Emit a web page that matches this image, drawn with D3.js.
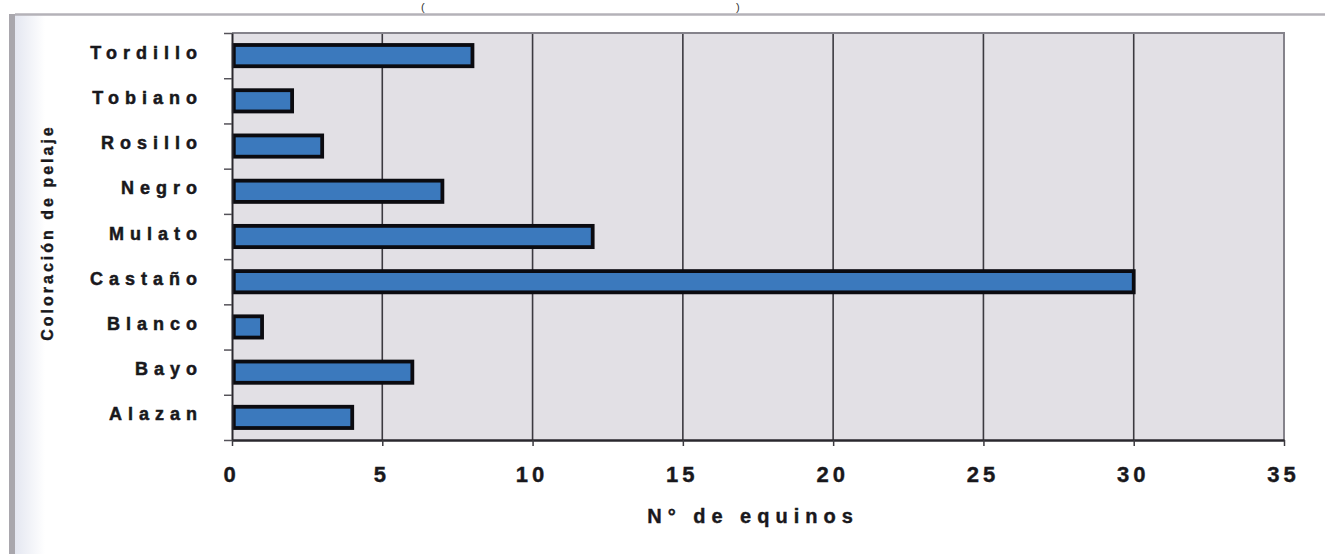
<!DOCTYPE html>
<html>
<head>
<meta charset="utf-8">
<script src="https://cdn.jsdelivr.net/npm/d3@7/dist/d3.min.js"></script>
<style>
  html, body { margin: 0; padding: 0; background: #fff; }
  svg { display: block; font-family: "Liberation Sans", Arial, sans-serif; }
</style>
</head>
<body>
<svg id="chart" width="1325" height="554"></svg>
<script>
// Coat colour of the horses, top to bottom
const categories = ["Tordillo", "Tobiano", "Rosillo", "Negro", "Mulato", "Castaño", "Blanco", "Bayo", "Alazan"];
const counts     = [8, 2, 3, 7, 12, 30, 1, 6, 4];
const xTicks     = [0, 5, 10, 15, 20, 25, 30, 35];
const xTitle     = "N° de equinos";
const yTitle     = "Coloración de pelaje";

const svg = d3.select("#chart");
const W = 1325, H = 554;
const plot = { left: 232, right: 1284, top: 33, bottom: 440 };
const ink = "#19181c";

// page frame: grey rule along the top and shaded strip on the left
const defs = svg.append("defs");
const strip = defs.append("linearGradient").attr("id", "strip").attr("x1", 0).attr("x2", 1);
strip.append("stop").attr("offset", 0).attr("stop-color", "#e4e7f1");
strip.append("stop").attr("offset", 1).attr("stop-color", "#ffffff");
svg.append("rect").attr("x", 15).attr("y", 15).attr("width", 30).attr("height", H - 15).attr("fill", "url(#strip)");
svg.append("rect").attr("x", 9).attr("y", 14).attr("width", 6).attr("height", H - 14).attr("fill", "#a9a7ad");
svg.append("line").attr("x1", 15).attr("x2", W).attr("y1", 14.5).attr("y2", 14.5)
  .attr("stroke", "#b4b2b8").attr("stroke-width", 2.5);

// heading brackets above the frame
svg.append("text").attr("x", 421).attr("y", 11).attr("font-size", 11).attr("fill", "#333").text("(");
svg.append("text").attr("x", 736).attr("y", 11).attr("font-size", 11).attr("fill", "#333").text(")");

// scales
const x = d3.scaleLinear().domain([0, 35]).range([plot.left, plot.right]);
const y = d3.scaleBand().domain(categories).range([plot.top, plot.bottom])
  .paddingInner(0.53).paddingOuter(0.265);
const yEdges = d3.scaleLinear().domain([0, categories.length]).range([plot.bottom, plot.top]);

// plot background
svg.append("rect")
  .attr("x", plot.left).attr("y", plot.top)
  .attr("width", plot.right - plot.left).attr("height", plot.bottom - plot.top)
  .attr("fill", "#e2e0e5");

// vertical gridlines
svg.append("g").selectAll("line")
  .data(xTicks.filter(d => d > 0 && d < 35))
  .join("line")
  .attr("x1", d => x(d)).attr("x2", d => x(d))
  .attr("y1", plot.top).attr("y2", plot.bottom)
  .attr("stroke", "#3c3a40").attr("stroke-width", 1.6);

// top and right border of the plot area
svg.append("path")
  .attr("d", `M${plot.left},${plot.top}H${plot.right}V${plot.bottom}`)
  .attr("fill", "none").attr("stroke", "#85838b").attr("stroke-width", 2);

// bars
svg.append("g").selectAll("rect")
  .data(categories.map((c, i) => ({ c, v: counts[i] })))
  .join("rect")
  .attr("x", x(0) + 1.8)
  .attr("y", d => y(d.c))
  .attr("width", d => x(d.v) - x(0) - 1.8)
  .attr("height", y.bandwidth())
  .attr("fill", "#3b79bd")
  .attr("stroke", "#0b0b10")
  .attr("stroke-width", 3.8);

// left axis: ticks at the category boundaries
const gy = svg.append("g").attr("transform", `translate(${plot.left},0)`)
  .call(d3.axisLeft(yEdges).ticks(categories.length).tickFormat("").tickSize(8).tickSizeOuter(0));
gy.select(".domain").attr("stroke", "#2a282e").attr("stroke-width", 2);
gy.selectAll(".tick line").attr("stroke", "#55535a").attr("stroke-width", 1.5);

// bottom axis
const gx = svg.append("g").attr("transform", `translate(0,${plot.bottom})`)
  .call(d3.axisBottom(x).tickValues(xTicks).tickSize(6).tickSizeOuter(0).tickFormat(d3.format("d")));
gx.select(".domain").attr("stroke", "#2a282e").attr("stroke-width", 2.5);
gx.selectAll(".tick line").attr("stroke", "#3c3a40").attr("stroke-width", 1.5);
gx.selectAll(".tick text")
  .attr("y", 0).attr("dy", 0)
  .attr("transform", "translate(-1,42)")
  .attr("x", 0)
  .attr("fill", ink)
  .attr("stroke", ink).attr("stroke-width", 0.4)
  .attr("font-size", 22).attr("font-weight", "bold")
  .attr("letter-spacing", 4)
  .attr("font-family", "'Liberation Sans', Arial, sans-serif");

// category labels
svg.append("g").selectAll("text")
  .data(categories)
  .join("text")
  .attr("x", 203)
  .attr("y", d => y(d) + y.bandwidth() / 2 + 3)
  .attr("text-anchor", "end")
  .attr("font-size", 18).attr("font-weight", "bold")
  .attr("letter-spacing", 6)
  .attr("fill", ink)
  .attr("stroke", ink).attr("stroke-width", 0.5)
  .text(d => d);

// axis titles
svg.append("text")
  .attr("x", 753).attr("y", 523)
  .attr("text-anchor", "middle")
  .attr("font-size", 20).attr("font-weight", "bold")
  .attr("letter-spacing", 6)
  .attr("fill", ink)
  .attr("stroke", ink).attr("stroke-width", 0.4)
  .text(xTitle);

svg.append("text")
  .attr("transform", `translate(53, ${(plot.top + plot.bottom) / 2 - 4}) rotate(-90)`)
  .attr("text-anchor", "middle")
  .attr("font-size", 16).attr("font-weight", "bold")
  .attr("letter-spacing", 3)
  .attr("fill", ink)
  .attr("stroke", ink).attr("stroke-width", 0.4)
  .text(yTitle);
</script>
</body>
</html>
